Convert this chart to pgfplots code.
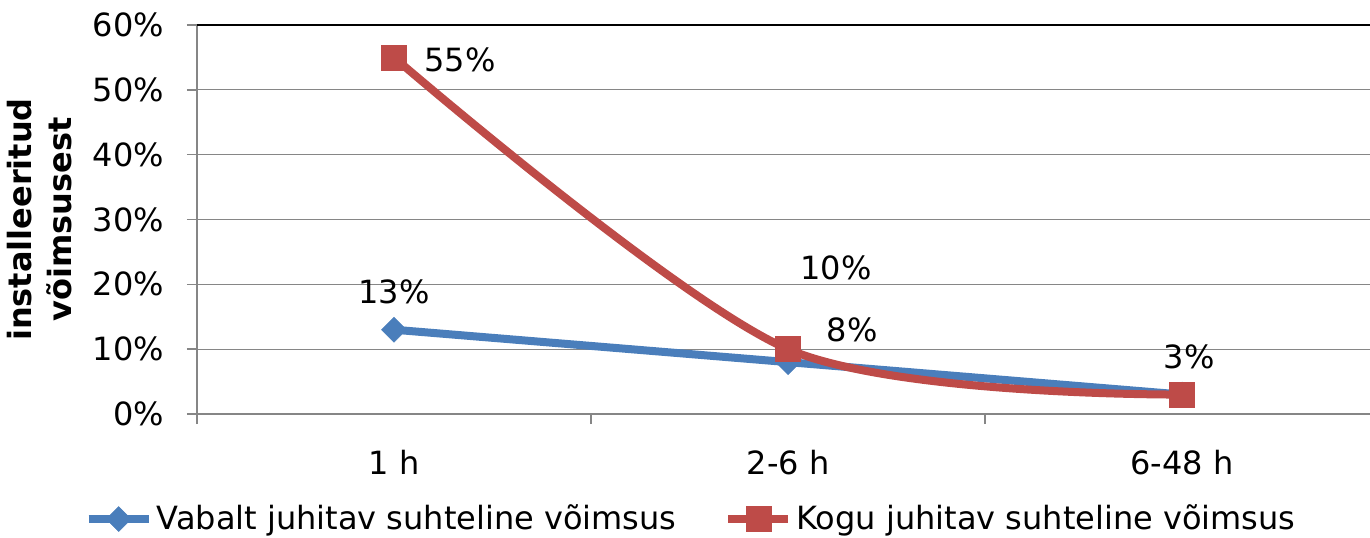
\documentclass[border=0pt]{standalone}
\usepackage{fontspec}
\setmainfont{DejaVu Sans}
\usepackage{pgfplots}
\pgfplotsset{compat=1.18}

\definecolor{seriesblue}{HTML}{4A7EBB}
\definecolor{seriesred}{HTML}{BE4B48}
\definecolor{axisgray}{HTML}{868686}

\newcommand{\chartfont}{\fontsize{16}{19}\selectfont}

\begin{document}
\chartfont
\begin{tikzpicture}
\begin{axis}[
  scale only axis,
  width=586.5pt, height=194.5pt,
  xmin=-0.5, xmax=2.477,
  ymin=0, ymax=60,
  axis x line*=bottom,
  axis y line*=left,
  axis line style={axisgray, line width=0.8pt, -},
  tick style={axisgray, line width=0.8pt},
  tick align=outside,
  xtick={0,1,2},
  xticklabels={1 h,2-6 h,6-48 h},
  major x tick style={draw=none},
  minor xtick={-0.5,0.5,1.5,2.5},
  minor tick length=5pt,
  major tick length=5pt,
  ytick={0,10,20,30,40,50,60},
  yticklabel={\pgfmathprintnumber{\tick}\%},
  /pgf/number format/assume math mode=true,
  ymajorgrids,
  major grid style={axisgray, line width=0.6pt},
  ticklabel style={font=\chartfont},
  xticklabel style={yshift=-7.5pt},
  yticklabel style={xshift=-6pt},
  ylabel={\bfseries\begin{tabular}{c}installeeritud\\[1pt]võimsusest\end{tabular}},
  ylabel style={font=\fontsize{16}{17}\selectfont},
  every axis y label/.style={at={(axis description cs:0,0.5)}, xshift=-76.5pt, rotate=90, anchor=center},
  legend columns=2,
  legend style={
    at={(axis description cs:0.422,-0.27)}, anchor=center,
    draw=none, fill=none,
    font=\chartfont,
    /tikz/every even column/.append style={column sep=22pt},
    inner xsep=0pt,
  },
  legend cell align=left,
  legend image code/.code={%
    \draw[#1, mark repeat=2, mark phase=2] plot coordinates {(0pt,0pt) (15pt,0pt) (30pt,0pt)};%
  },
  clip=false,
]
% free-controllable relative capacity
\addplot[seriesblue, line width=4pt, smooth,
  mark=square*, mark size=4.4pt,
  mark options={rotate=45, line width=0.3pt, fill=seriesblue, draw=seriesblue}]
  coordinates {(0,13) (1,8) (2,3)};
\addlegendentry{Vabalt juhitav suhteline võimsus}
% total controllable relative capacity
\addplot[seriesred, line width=4pt, smooth,
  mark=square*, mark size=6.3pt,
  mark options={line width=0.3pt, fill=seriesred, draw=seriesred}]
  coordinates {(0,55) (1,10) (2,3)};
\addlegendentry{Kogu juhitav suhteline võimsus}

% top border of the plot area
\draw[black, line width=1pt] (rel axis cs:0,1) -- (rel axis cs:1,1);

% value labels
\node[font=\chartfont] at (axis cs:0,13) [yshift=18.9pt] {13\%};
\node[font=\chartfont] at (axis cs:1,8) [xshift=32pt, yshift=16pt] {8\%};
\node[font=\chartfont] at (axis cs:2,3) [xshift=3.5pt, yshift=18.8pt] {3\%};
\node[font=\chartfont] at (axis cs:0,55) [xshift=33pt, yshift=-1.3pt] {55\%};
\node[font=\chartfont] at (axis cs:1,10) [xshift=24pt, yshift=40.6pt] {10\%};
\end{axis}
\pgfresetboundingbox
\useasboundingbox (-98.5pt,-61.5pt) rectangle (586.5pt,207pt);
\end{tikzpicture}
\end{document}
